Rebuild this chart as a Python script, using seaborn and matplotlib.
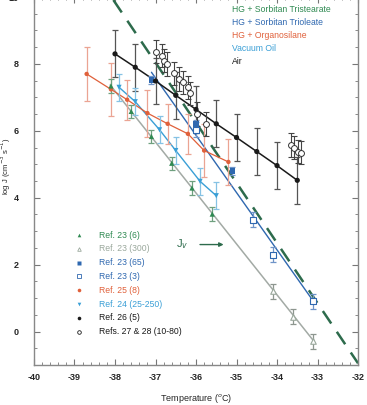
import numpy as np
import pandas as pd
import matplotlib
matplotlib.use("Agg")
import matplotlib.pyplot as plt
from matplotlib.ticker import MultipleLocator
import seaborn as sns

sns.set_style("ticks")
plt.rcParams["font.family"] = ["Liberation Sans", "DejaVu Sans"]
plt.rcParams["axes.unicode_minus"] = False

# ---- data ----
ref23_6_x = [-38.1, -37.6, -37.1, -36.6, -36.1, -35.6]
ref23_6_y = [7.34, 6.58, 5.83, 5.03, 4.29, 3.51]

ref23_300_x = [-34.1, -33.6, -33.1]
ref23_300_y = [1.2, 0.44, -0.29]

tristearate_fit_x = [-38.12, -33.09]
tristearate_fit_y = [7.37, -0.29]

ref23_65_x = [-37.1, -36.0, -35.1]
ref23_65_y = [7.52, 6.2, 4.81]

ref23_3_x = [-36.0, -34.6, -34.1, -33.1]
ref23_3_y = [6.03, 3.34, 2.3, 0.9]

trioleate_fit_x = [-37.1, -33.1]
trioleate_fit_y = [7.75, 0.9]

ref25_x = [-38.7, -38.1, -37.7, -37.2, -36.7, -36.2, -35.8, -35.2]
ref25_y = [7.7, 7.24, 6.93, 6.53, 6.21, 5.91, 5.41, 5.07]
ref25_err = [0.8, 0.8, 0.6, 0.7, 0.6, 0.6, 0.8, 0.7]

ref24_x = [-37.9, -37.5, -36.9, -36.5, -35.9, -35.5]
ref24_y = [7.3, 6.87, 6.03, 5.41, 4.49, 4.06]

ref26_x = [-38.0, -37.5, -37.0, -36.5, -36.0, -35.5, -35.0, -34.5, -34.0, -33.5]
ref26_y = [8.3, 7.9, 7.49, 7.06, 6.64, 6.21, 5.8, 5.38, 4.96, 4.52]

ref27_x = [-36.98, -36.85, -36.78, -36.72, -36.55, -36.42, -36.33, -36.2, -36.14,
           -35.98, -35.75, -33.66, -33.58, -33.48, -33.4]
ref27_y = [8.37, 8.25, 8.1, 8.0, 7.72, 7.55, 7.45, 7.3, 7.12,
           6.5, 6.2, 5.58, 5.5, 5.38, 5.35]

jv_x = [-38.04, -32.0]
jv_y = [9.91, -0.95]

GREEN = "#2f8a52"
DKGREEN = "#2d6b4c"
GRAYGRN = "#9aa89c"
BLUE = "#2f68b0"
RED = "#e0603a"
CYAN = "#3a9fd6"
BLACK = "#1a1a1a"

fig = plt.figure(figsize=(3.67, 4.05), dpi=100)
ax = fig.add_axes([0.0926, 0.0988, 0.883, 0.9086])

# fit lines
sns.lineplot(x=jv_x, y=jv_y, ax=ax, color=DKGREEN, lw=1.8)
ax.lines[-1].set_dashes([6, 4])
sns.lineplot(x=tristearate_fit_x, y=tristearate_fit_y, ax=ax, color="#a3aaa5", lw=1.1)
sns.lineplot(x=trioleate_fit_x, y=trioleate_fit_y, ax=ax, color=BLUE, lw=1.0)
sns.lineplot(x=ref24_x, y=ref24_y, ax=ax, color=CYAN, lw=1.0)
sns.lineplot(x=ref25_x, y=ref25_y, ax=ax, color=RED, lw=0.9)
sns.lineplot(x=ref26_x, y=ref26_y, ax=ax, color=BLACK, lw=1.1)

# error bars
def bars(x, y, e, c, lw=0.9):
    ax.errorbar(x, y, yerr=e, fmt="none", ecolor=c, elinewidth=lw, capsize=2, capthick=lw)

bars(ref25_x, ref25_y, ref25_err, "#eba493")
bars(ref26_x, ref26_y, 0.7, "#555555")
bars(ref24_x, ref24_y, 0.4, "#86c2e4")
bars(ref23_6_x, ref23_6_y, 0.2, "#6fa07f")
bars(ref23_300_x, ref23_300_y, 0.22, "#8d968f")
bars(ref23_3_x, ref23_3_y, 0.22, "#6f94c8")
bars(ref23_65_x, ref23_65_y, 0.12, "#6f94c8")
bars(ref27_x, ref27_y, 0.35, "#444444", lw=0.8)

# markers
sns.scatterplot(x=ref25_x, y=ref25_y, ax=ax, color=RED, s=10, marker="o", edgecolor="none", zorder=5)
sns.scatterplot(x=ref24_x, y=ref24_y, ax=ax, color=CYAN, s=14, marker="v", edgecolor="none", zorder=5)
sns.scatterplot(x=ref23_6_x, y=ref23_6_y, ax=ax, color=GREEN, s=14, marker="^", edgecolor="none", zorder=5)
sns.scatterplot(x=ref23_300_x, y=ref23_300_y, ax=ax, facecolor="white", edgecolor=GRAYGRN, s=16, marker="^", linewidth=0.8, zorder=5)
sns.scatterplot(x=ref23_65_x, y=ref23_65_y, ax=ax, color=BLUE, s=18, marker="s", edgecolor="none", zorder=5)
sns.scatterplot(x=ref23_3_x, y=ref23_3_y, ax=ax, facecolor="white", edgecolor=BLUE, s=16, marker="s", linewidth=0.8, zorder=5)
sns.scatterplot(x=ref26_x, y=ref26_y, ax=ax, color=BLACK, s=14, marker="o", edgecolor="none", zorder=6)
sns.scatterplot(x=ref27_x, y=ref27_y, ax=ax, facecolor="white", edgecolor="#333333", s=18, marker="o", linewidth=0.7, zorder=6)

# axes styling
ax.set_xlim(-40, -32)
ax.set_ylim(-1, 10)
ax.xaxis.set_major_locator(MultipleLocator(1))
ax.xaxis.set_minor_locator(MultipleLocator(0.2))
ax.yaxis.set_major_locator(MultipleLocator(2))
ax.yaxis.set_minor_locator(MultipleLocator(0.5))
ax.tick_params(which="both", direction="in", top=True, right=True, color="#777777")
ax.tick_params(which="major", length=4, width=0.8, labelsize=6.5)
ax.tick_params(axis="x", which="major", pad=6)
ax.tick_params(axis="y", which="major", pad=11)
ax.tick_params(which="minor", length=2, width=0.6)
for lab in ax.get_xticklabels() + ax.get_yticklabels():
    lab.set_fontweight("bold")
for sp in ax.spines.values():
    sp.set_color("#888888")
    sp.set_linewidth(1.0)

ax.set_xlabel("Temperature ($^{o}$C)", fontsize=6.5, labelpad=7)
ax.set_ylabel("log J (cm$^{-3}$ s$^{-1}$)", fontsize=5.5)
ax.yaxis.set_label_coords(-0.066, 0.54)

# upper-right legend (coloured text)
top_items = [("HG + Sorbitan Tristearate", GREEN), ("HG + Sorbitan Trioleate", BLUE),
             ("HG + Organosilane", RED), ("Vacuum Oil", CYAN), ("Air", BLACK)]
for i, (txt, c) in enumerate(top_items):
    ax.text(0.611, 0.966 - i * 0.0355, txt, color=c, fontsize=6.2, transform=ax.transAxes,
            va="center", ha="left")

# lower-left legend
low_items = [
    ("Ref. 23 (6)", GREEN, "^", GREEN),
    ("Ref. 23 (300)", GRAYGRN, "^", "white"),
    ("Ref. 23 (65)", BLUE, "s", BLUE),
    ("Ref. 23 (3)", BLUE, "s", "white"),
    ("Ref. 25 (8)", RED, "o", RED),
    ("Ref. 24 (25-250)", CYAN, "v", CYAN),
    ("Ref. 26 (5)", BLACK, "o", BLACK),
    ("Refs. 27 & 28 (10-80)", BLACK, "o", "white"),
]
for i, (txt, c, m, fc) in enumerate(low_items):
    yy = 0.353 - i * 0.0375
    ax.plot([0.14], [yy], marker=m, ms=2.6, mfc=fc, mec=c if fc == "white" else "none",
            mew=0.6, ls="none", transform=ax.transAxes, zorder=7)
    ax.text(0.2, yy, txt, color=c, fontsize=6.2, transform=ax.transAxes, va="center", ha="left")

# J_v arrow
ax.text(-36.34, 2.62, "J$_v$", color=DKGREEN, fontsize=8, ha="center", va="center")
ax.annotate("", xy=(-35.25, 2.6), xytext=(-35.97, 2.6),
            arrowprops=dict(arrowstyle="-|>", color=DKGREEN, lw=1.0, mutation_scale=6))

fig.savefig("out.png", dpi=100)
